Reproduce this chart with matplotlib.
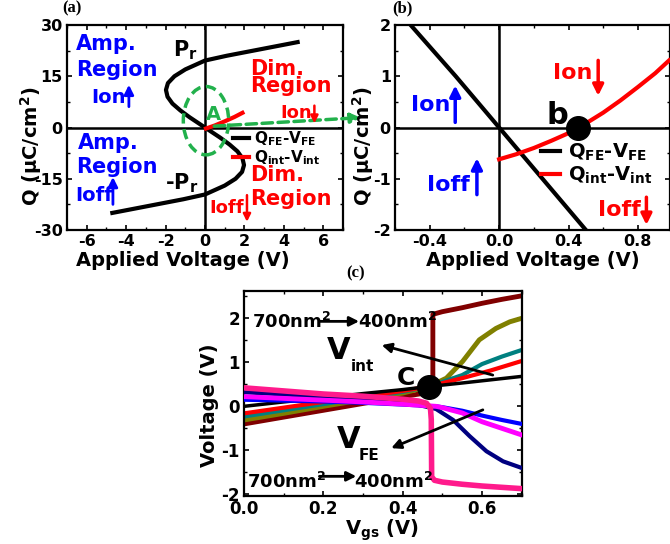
import matplotlib
matplotlib.use("Agg")
import matplotlib.pyplot as plt
from matplotlib.patches import Ellipse
from matplotlib.ticker import MultipleLocator, FormatStrFormatter

plt.rcParams.update({
    "font.family": "DejaVu Sans",
    "font.weight": "bold",
    "axes.labelweight": "bold",
    "axes.unicode_minus": False,
    "mathtext.fontset": "custom",
    "mathtext.rm": "DejaVu Sans:bold",
    "mathtext.it": "DejaVu Sans:bold",
    "mathtext.bf": "DejaVu Sans:bold",
    "mathtext.sf": "DejaVu Sans:bold",
    "axes.linewidth": 1.6,
    "xtick.direction": "in", "ytick.direction": "in",
    "xtick.top": True, "ytick.right": True,
    "xtick.major.size": 3.5, "ytick.major.size": 3.5,
    "xtick.minor.size": 2.0, "ytick.minor.size": 2.0,
    "xtick.major.width": 1.2, "ytick.major.width": 1.2,
    "xtick.minor.width": 1.0, "ytick.minor.width": 1.0,
    "xtick.labelsize": 11.5, "ytick.labelsize": 11.5,
    "xtick.major.pad": 3, "ytick.major.pad": 3,
})

BLUE = "#0000ff"
RED = "#ff0000"
GREEN = "#22b14c"

# ---- (a) S-curve Q_FE-V_FE and Q_int-V_int
fe_q_a = [-25, -23, -21, -19.6, -17, -15, -13, -11, -9, -7, -5, -3, -1, 0,
          1, 3, 5, 7, 9, 11, 13, 15, 17, 19.6, 21, 23, 25]
fe_v_a = [-4.7, -2.9, -1.1, 0.0, 1.0, 1.55, 1.88, 1.98, 1.9, 1.65, 1.25, 0.78, 0.26, 0.0,
          -0.26, -0.78, -1.25, -1.65, -1.9, -1.98, -1.88, -1.55, -1.0, 0.0, 1.1, 2.9, 4.7]
int_v_a = [0.05, 0.5, 1.0, 1.5, 1.9]
int_q_a = [-0.3, 0.6, 1.8, 3.1, 4.3]

# ---- (b) zoom near the origin
fe_v_b = [-0.51, -0.25, 0.0, 0.25, 0.5]
fe_q_b = [2.0, 1.0, 0.0, -1.0, -2.0]
int_v_b = [0.0, 0.1, 0.2, 0.3, 0.4, 0.5, 0.6, 0.7, 0.8, 0.9, 0.98]
int_q_b = [-0.62, -0.52, -0.40, -0.26, -0.11, 0.08, 0.29, 0.53, 0.79, 1.06, 1.31]
op_b = (0.456, 0.0)

# ---- (c) V_int and V_FE versus Vgs for several areas
vint_curves = [
    ("#800000", 3.5,
     [0.0, 0.1, 0.2, 0.3, 0.4, 0.476, 0.476, 0.5, 0.55, 0.6, 0.65, 0.7],
     [-0.40, -0.245, -0.09, 0.065, 0.22, 0.33, 2.09, 2.15, 2.24, 2.34, 2.43, 2.51]),
    ("#808000", 3.5,
     [0.0, 0.1, 0.2, 0.3, 0.4, 0.466, 0.51, 0.551, 0.593, 0.635, 0.67, 0.7],
     [-0.31, -0.16, 0.0, 0.15, 0.3, 0.45, 0.64, 1.02, 1.51, 1.77, 1.92, 2.0]),
    ("#008080", 3.0,
     [0.0, 0.1, 0.2, 0.3, 0.4, 0.466, 0.55, 0.6, 0.65, 0.7],
     [-0.23, -0.09, 0.05, 0.19, 0.33, 0.45, 0.71, 0.96, 1.13, 1.28]),
    ("#ff0000", 3.0,
     [0.0, 0.1, 0.2, 0.3, 0.4, 0.466, 0.55, 0.62, 0.7],
     [-0.16, -0.03, 0.1, 0.22, 0.35, 0.45, 0.64, 0.81, 1.03]),
    ("#000000", 2.5,
     [0.0, 0.1, 0.2, 0.3, 0.4, 0.466, 0.55, 0.62, 0.7],
     [0.0, 0.1, 0.19, 0.29, 0.38, 0.45, 0.53, 0.6, 0.68]),
]
vfe_curves = [
    ("#000080", 3.0,
     [0.0, 0.1, 0.2, 0.3, 0.4, 0.44, 0.484, 0.527, 0.569, 0.611, 0.653, 0.7],
     [0.32, 0.27, 0.22, 0.16, 0.09, 0.03, -0.06, -0.31, -0.68, -1.02, -1.25, -1.40]),
    ("#0000ff", 3.0,
     [0.0, 0.1, 0.2, 0.3, 0.4, 0.484, 0.5, 0.55, 0.6, 0.65, 0.7],
     [0.15, 0.13, 0.11, 0.08, 0.04, 0.0, -0.02, -0.1, -0.21, -0.31, -0.40]),
    ("#ff00ff", 3.5,
     [0.0, 0.1, 0.2, 0.3, 0.4, 0.484, 0.5, 0.55, 0.6, 0.65, 0.7],
     [0.22, 0.18, 0.14, 0.1, 0.05, 0.0, -0.03, -0.15, -0.35, -0.5, -0.65]),
    ("#ff1a8c", 4.0,
     [0.0, 0.1, 0.2, 0.3, 0.4, 0.44, 0.46, 0.47, 0.472, 0.473, 0.48, 0.5, 0.55, 0.6, 0.65, 0.7],
     [0.42, 0.35, 0.28, 0.23, 0.16, 0.12, 0.07, -0.05, -0.3, -1.6, -1.68, -1.72, -1.77, -1.81, -1.84, -1.87]),
]
op_c = (0.466, 0.45)


def arrow(ax, start, end, color, lw=2.0, ms=14, ls="-"):
    ax.annotate("", xy=end, xytext=start, annotation_clip=False,
                arrowprops=dict(arrowstyle="-|>", color=color, lw=lw,
                                mutation_scale=ms, linestyle=ls,
                                shrinkA=0, shrinkB=0))


fig = plt.figure(figsize=(6.7, 5.44), dpi=100)

# ================= (a)
ax = fig.add_axes([0.1, 0.5772, 0.4119, 0.3768])
ax.axhline(0, color="k", lw=1.8, zorder=1)
ax.axvline(0, color="k", lw=1.8, zorder=1)
ax.plot(fe_v_a, fe_q_a, color="k", lw=3, label=r"Q$_{FE}$-V$_{FE}$", zorder=3)
ax.plot(int_v_a, int_q_a, color=RED, lw=3, label=r"Q$_{int}$-V$_{int}$", zorder=3)
ax.add_patch(Ellipse((0.05, 2), 2.3, 20, fill=False, ec=GREEN, lw=2.5,
                     ls=(0, (3, 1.6)), zorder=4))
arrow(ax, (0.47, 0.4), (7.9, 2.9), GREEN, lw=2.5, ms=14, ls=(0, (3, 1.6)))
ax.set_xlim(-7, 7)
ax.set_ylim(-30, 30)
ax.xaxis.set_minor_locator(MultipleLocator(1))
ax.yaxis.set_major_locator(MultipleLocator(15))
ax.yaxis.set_minor_locator(MultipleLocator(7.5))
ax.set_xticks([-6, -4, -2, 0, 2, 4, 6])
ax.set_xlabel("Applied Voltage (V)", fontsize=14)
ax.set_ylabel(r"Q (μC/cm$^2$)", fontsize=14)
ax.xaxis.set_label_coords(0.42, -0.1)
ax.yaxis.set_label_coords(-0.085, 0.41)

ax.text(-6.55, 22.6, "Amp.", color=BLUE, fontsize=15)
ax.text(-6.55, 15.2, "Region", color=BLUE, fontsize=15)
ax.text(-5.75, 7.3, "Ion", color=BLUE, fontsize=14)
arrow(ax, (-3.86, 6.1), (-3.86, 12.5), BLUE)
ax.text(-6.45, -6.4, "Amp.", color=BLUE, fontsize=15)
ax.text(-6.55, -13.2, "Region", color=BLUE, fontsize=15)
ax.text(-6.6, -21.6, "Ioff", color=BLUE, fontsize=14)
arrow(ax, (-4.67, -22.5), (-4.67, -14.5), BLUE)
ax.text(-1.6, 20.8, r"P$_r$", color="k", fontsize=15)
ax.text(-2.05, -18.1, r"-P$_r$", color="k", fontsize=15)
ax.text(2.3, 15.5, "Dim.", color=RED, fontsize=15)
ax.text(2.3, 10.5, "Region", color=RED, fontsize=15)
ax.text(3.8, 2.9, "Ion", color=RED, fontsize=13)
arrow(ax, (5.55, 6.4), (5.55, 1.2), RED, lw=1.8, ms=11)
ax.text(2.3, -15.8, "Dim.", color=RED, fontsize=15)
ax.text(2.3, -22.8, "Region", color=RED, fontsize=15)
ax.text(0.2, -25, "Ioff", color=RED, fontsize=13)
arrow(ax, (2.13, -19.8), (2.13, -27.6), RED, lw=1.8, ms=11)
ax.text(0.05, 2.3, "A", color=GREEN, fontsize=14)
ax.legend(loc="upper left", bbox_to_anchor=(0.6, 0.49), frameon=False,
          fontsize=11, handlelength=1.1, handletextpad=0.3, borderpad=0,
          labelspacing=0.0, borderaxespad=0)

# ================= (b)
ax = fig.add_axes([0.5896, 0.5772, 0.4104, 0.3768])
ax.axhline(0, color="k", lw=1.8, zorder=1)
ax.axvline(0, color="k", lw=1.8, zorder=1)
ax.plot(fe_v_b, fe_q_b, color="k", lw=3, label=r"Q$_{FE}$-V$_{FE}$", zorder=3)
ax.plot(int_v_b, int_q_b, color=RED, lw=3, label=r"Q$_{int}$-V$_{int}$", zorder=3)
ax.plot(*op_b, "o", color="k", ms=17, zorder=5)
ax.set_xlim(-0.6, 0.985)
ax.set_ylim(-2, 2)
ax.xaxis.set_major_locator(MultipleLocator(0.4))
ax.xaxis.set_minor_locator(MultipleLocator(0.2))
ax.xaxis.set_major_formatter(FormatStrFormatter("%.1f"))
ax.yaxis.set_major_locator(MultipleLocator(1))
ax.yaxis.set_minor_locator(MultipleLocator(0.5))
ax.set_xlabel("Applied Voltage (V)", fontsize=14)
ax.set_ylabel(r"Q (μC/cm$^2$)", fontsize=14)
ax.xaxis.set_label_coords(0.5, -0.1)
ax.yaxis.set_label_coords(-0.07, 0.41)
ax.text(0.274, 0.07, "b", color="k", fontsize=22)
ax.text(-0.51, 0.33, "Ion", color=BLUE, fontsize=16)
arrow(ax, (-0.253, 0.1), (-0.253, 0.82), BLUE, lw=2.5, ms=16)
ax.text(-0.415, -1.24, "Ioff", color=BLUE, fontsize=16)
arrow(ax, (-0.128, -1.31), (-0.128, -0.6), BLUE, lw=2.5, ms=16)
ax.text(0.312, 0.95, "Ion", color=RED, fontsize=16)
arrow(ax, (0.571, 1.31), (0.571, 0.62), RED, lw=2.5, ms=16)
ax.text(0.571, -1.73, "Ioff", color=RED, fontsize=16)
arrow(ax, (0.849, -1.36), (0.849, -1.9), RED, lw=2.5, ms=16)
ax.legend(loc="upper left", bbox_to_anchor=(0.53, 0.43), frameon=False,
          fontsize=14, handlelength=1.0, handletextpad=0.4, borderpad=0,
          labelspacing=0.1, borderaxespad=0)

# ================= (c)
ax = fig.add_axes([0.3642, 0.0888, 0.4145, 0.3763])
for color, lw, xs, ys in vint_curves:
    ax.plot(xs, ys, color=color, lw=lw, zorder=2)
for color, lw, xs, ys in vfe_curves:
    ax.plot(xs, ys, color=color, lw=lw, zorder=3)
ax.plot(*op_c, "o", color="k", ms=17, zorder=5)
ax.set_xlim(0, 0.7)
ax.set_ylim(-2.03, 2.62)
ax.xaxis.set_major_locator(MultipleLocator(0.2))
ax.xaxis.set_minor_locator(MultipleLocator(0.1))
ax.xaxis.set_major_formatter(FormatStrFormatter("%.1f"))
ax.yaxis.set_major_locator(MultipleLocator(1))
ax.yaxis.set_minor_locator(MultipleLocator(0.5))
ax.tick_params(labelsize=12)
ax.set_xlabel(r"V$_{gs}$ (V)", fontsize=14)
ax.set_ylabel("Voltage (V)", fontsize=14)
ax.xaxis.set_label_coords(0.497, -0.105)
ax.yaxis.set_label_coords(-0.09, 0.44)

ax.text(0.019, 1.77, r"700nm$^2$", fontsize=13, zorder=6)
arrow(ax, (0.19, 1.93), (0.29, 1.93), "k", lw=2, ms=14)
ax.text(0.287, 1.77, r"400nm$^2$", fontsize=13, zorder=6)
ax.text(0.008, -1.85, r"700nm$^2$", fontsize=13, zorder=6)
arrow(ax, (0.19, -1.59), (0.283, -1.59), "k", lw=2, ms=14)
ax.text(0.277, -1.85, r"400nm$^2$", fontsize=13, zorder=6)
ax.text(0.208, 1.08, "V", fontsize=22)
ax.text(0.268, 0.80, "int", fontsize=11)
ax.text(0.235, -0.95, "V", fontsize=22)
ax.text(0.288, -1.21, "FE", fontsize=11)
ax.text(0.385, 0.49, "C", fontsize=18)
arrow(ax, (0.627, 0.71), (0.347, 1.39), "k", lw=2, ms=14)
arrow(ax, (0.602, -0.08), (0.371, -0.95), "k", lw=2, ms=14)

serif = dict(family="Liberation Serif", fontweight="bold", fontsize=12,
             ha="center", va="center")
fig.text(72 / 670, 1 - 8 / 544, "(a)", **serif)
fig.text(402 / 670, 1 - 8 / 544, "(b)", **serif)
fig.text(356 / 670, 1 - 273 / 544, "(c)", **serif)

fig.savefig("out.png", dpi=100)
